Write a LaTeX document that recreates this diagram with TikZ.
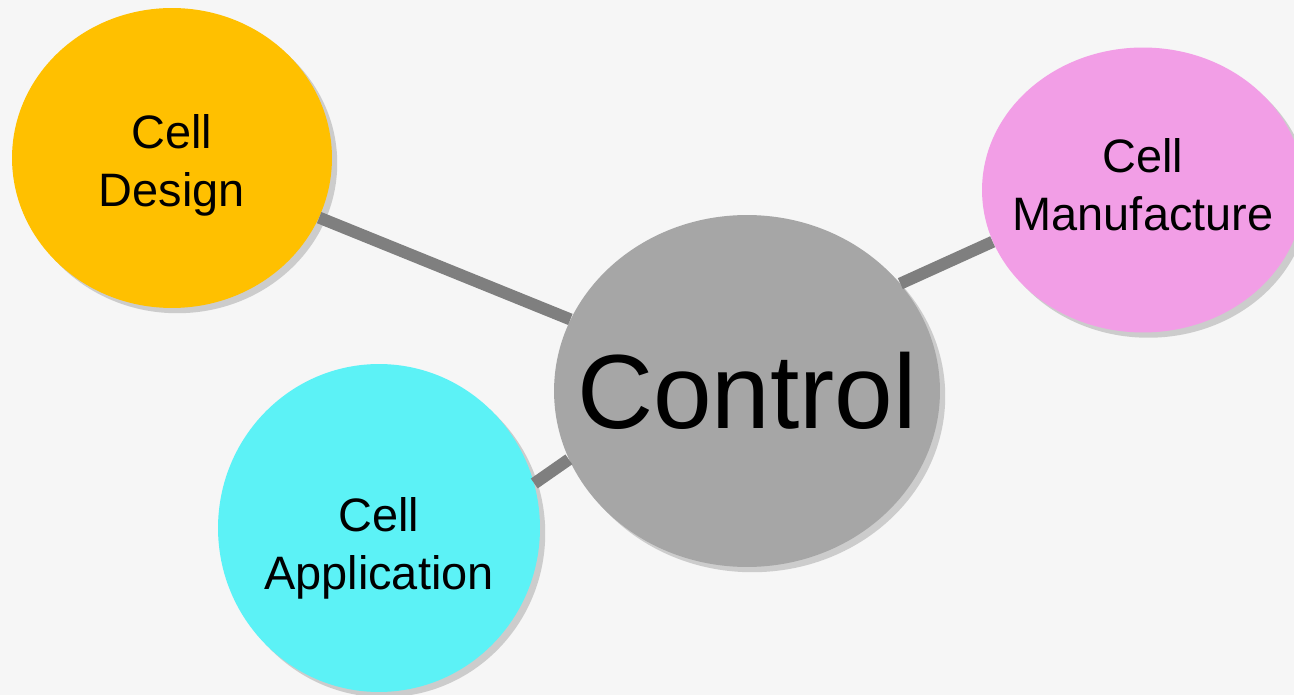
\documentclass[tikz,border=0pt]{standalone}
\usepackage{fontspec}
\setmainfont{Liberation Sans}
\usetikzlibrary{shapes.geometric, shadows}
\definecolor{designcol}{HTML}{FFC000}
\definecolor{controlcol}{HTML}{A6A6A6}
\definecolor{manufcol}{HTML}{F29EE6}
\definecolor{applcol}{HTML}{5CF2F6}
\definecolor{linkcol}{HTML}{7F7F7F}
\definecolor{paper}{HTML}{F6F6F6}
\begin{document}
\begin{tikzpicture}[x=0.02cm, y=-0.02cm,
	    cell/.style={ellipse, inner sep=0pt, drop shadow={opacity=0.35, shadow xshift=3pt, shadow yshift=-3pt}},
	    celltext/.style={align=center, font=\fontsize{26.7}{33}\selectfont},
	    link/.style={draw=linkcol, line width=0.24cm}]
	    \fill[paper] (0,0) rectangle (1294,695);
	    \useasboundingbox (0,0) rectangle (1294,695);
	    \node[cell, fill=designcol, minimum width=6.4cm, minimum height=6cm, label={[celltext, yshift=-0.14cm]center:Cell\\Design}] (design) at (172,158) {};
	    \node[cell, fill=controlcol, minimum width=7.72cm, minimum height=7.04cm, label={[font=\fontsize{60}{66}\selectfont]center:Control}] (control) at (747,391) {};
	    \node[cell, fill=manufcol, minimum width=6.44cm, minimum height=5.7cm, label={[celltext, yshift=0.1cm]center:Cell\\Manufacture}] (manuf) at (1143,190) {};
	    \node[cell, fill=applcol, minimum width=6.44cm, minimum height=6.56cm, label={[celltext, yshift=-0.4cm]center:Cell\\Application}] (appl) at (379,528) {};
	    \draw[link] (design) -- (control);
	    \draw[link] (control.35) -- (manuf.199);
	    \draw[link] (appl.16) -- (control.201);
	\end{tikzpicture}
\end{document}
